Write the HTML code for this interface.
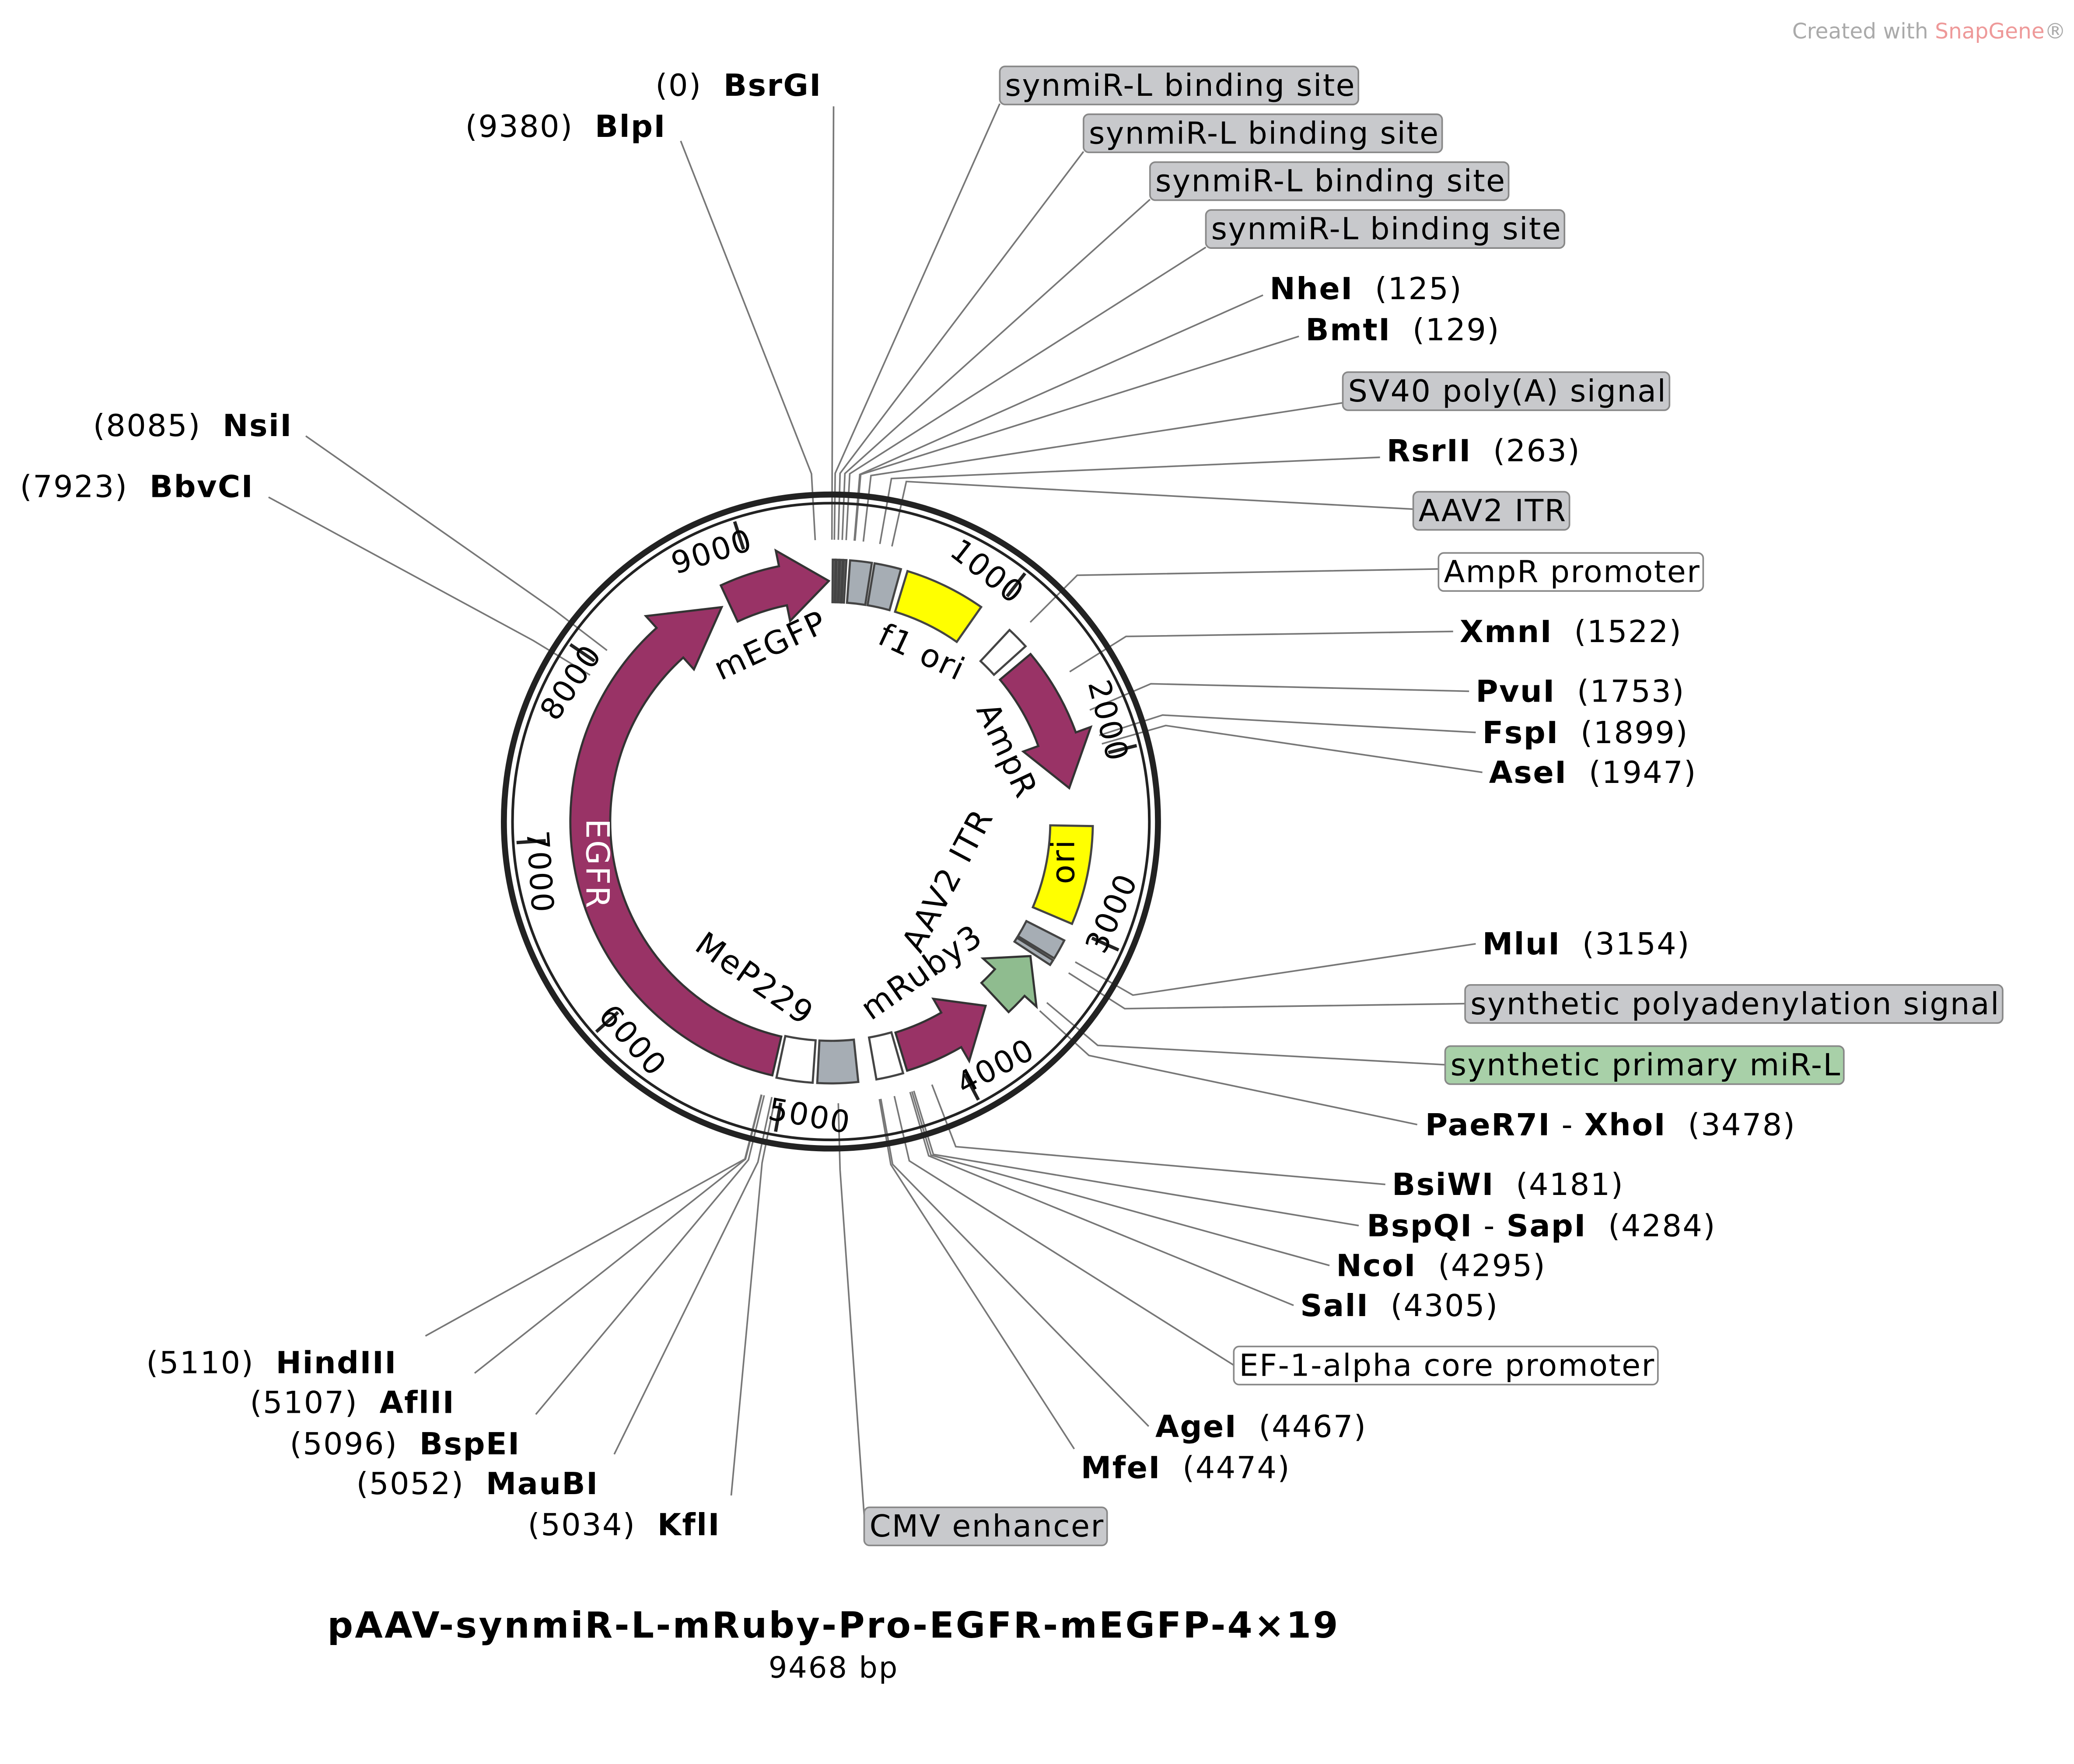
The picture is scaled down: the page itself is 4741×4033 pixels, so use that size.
<!DOCTYPE html>
<html><head><meta charset="utf-8"><style>html,body{margin:0;padding:0;background:#fff}svg{display:block}#labels text{white-space:pre}</style></head>
<body>
<svg id="s" xmlns="http://www.w3.org/2000/svg" width="4741" height="4033" viewBox="0 0 1560 1327" font-family="'DejaVu Sans','Liberation Sans',sans-serif">
<rect width="1560" height="1327" fill="#fff"/>
<g id="lines" stroke="#777" stroke-width="1.2" fill="none"></g>
<circle cx="625" cy="618" r="246" fill="none" stroke="#222" stroke-width="4.5"/>
<circle cx="625" cy="618" r="239.5" fill="none" stroke="#222" stroke-width="2"/>
<g id="feat"></g>
<g id="ticks"></g>
<g id="labels" font-size="23" letter-spacing="0.8" fill="#000" xml:space="preserve"></g>
<g font-size="24" letter-spacing="1">
<text x="583" y="493" transform="rotate(-25 583 493)" text-anchor="middle">mEGFP</text>
<text x="690" y="498" transform="rotate(25 690 498)" text-anchor="middle">f1 ori</text>
<text x="750" y="568" transform="rotate(65 750 568)" text-anchor="middle">AmpR</text>
<text x="808" y="648" transform="rotate(-90 808 648)" text-anchor="middle">ori</text>
<text x="720" y="666" transform="rotate(-62 720 666)" text-anchor="middle">AAV2 ITR</text>
<text x="698" y="738" transform="rotate(-35 698 738)" text-anchor="middle">mRuby3</text>
<text x="563" y="743" transform="rotate(35 563 743)" text-anchor="middle">MeP229</text>
<text x="441" y="650" transform="rotate(90 441 650)" text-anchor="middle" fill="#fff">EGFR</text>
</g>
<text x="627" y="1232" font-size="27" font-weight="bold" letter-spacing="1.4" text-anchor="middle">pAAV-synmiR-L-mRuby-Pro-EGFR-mEGFP-4×19</text>
<text x="627" y="1262" font-size="22" letter-spacing="1" text-anchor="middle">9468 bp</text>
<text x="1348" y="29" font-size="16" fill="#aaa">Created with <tspan fill="#e99">SnapGene</tspan>®</text>
</svg>
<script>
const NS="http://www.w3.org/2000/svg",cx=625,cy=618;
function P(a,r){a=a*Math.PI/180;return [cx+r*Math.sin(a),cy-r*Math.cos(a)];}
function f(p){return p[0].toFixed(2)+","+p[1].toFixed(2);}
function el(par,tag,at,txt){const e=document.createElementNS(NS,tag);for(const k in at)e.setAttribute(k,at[k]);if(txt!=null)e.textContent=txt;document.getElementById(par).appendChild(e);return e;}
function box(a1,a2,fill,r1=165,r2=197){
 const d="M"+f(P(a1,r2))+" A"+r2+","+r2+" 0 0 1 "+f(P(a2,r2))+" L"+f(P(a2,r1))+" A"+r1+","+r1+" 0 0 0 "+f(P(a1,r1))+"Z";
 el("feat","path",{d,fill,stroke:"#444","stroke-width":1.6});}
function arrow(a1,a2,fill,rev,h){
 const b1=166,b2=196,h1=154,h2=208,m=181;
 let d;
 if(!rev){const ah=a2-h;
  d="M"+f(P(a1,b2))+" A"+b2+","+b2+" 0 0 1 "+f(P(ah,b2))+" L"+f(P(ah,h2))+" L"+f(P(a2,m))+" L"+f(P(ah,h1))+" L"+f(P(ah,b1))+" A"+b1+","+b1+" 0 0 0 "+f(P(a1,b1))+"Z";}
 else{const ah=a1+h;
  d="M"+f(P(a2,b2))+" A"+b2+","+b2+" 0 0 0 "+f(P(ah,b2))+" L"+f(P(ah,h2))+" L"+f(P(a1,m))+" L"+f(P(ah,h1))+" L"+f(P(ah,b1))+" A"+b1+","+b1+" 0 0 1 "+f(P(a2,b1))+"Z";}
 el("feat","path",{d,fill,stroke:"#333","stroke-width":1.6});}
const PU="#993366";
arrow(193,333,PU,false,15);
arrow(335,359.5,PU,false,11);
for(const a of [0.4,1.2,2.0,2.8]) box(a,a+0.6,"#666");
box(4.2,9,"#a6adb4");box(9.6,15.5,"#a6adb4");
box(17,35,"#ffff00");
box(43,48,"#fff");
arrow(50,82,PU,false,12);
box(91,113,"#ffff00");
box(117,121.5,"#a6adb4");box(122,123.2,"#a6adb4");
arrow(124,137,"#8fbc8f",true,8);
arrow(140,163,PU,true,10);
box(164,170,"#fff");
box(174,183,"#a6adb4");
box(184,192,"#fff");
for(let k=1;k<10;k++){const a=k*1000/9468*360;
 el("ticks","line",{x1:P(a,215)[0],y1:P(a,215)[1],x2:P(a,237)[0],y2:P(a,237)[1],stroke:"#222","stroke-width":2.5});
 const q=P(a-6,222);let rot=a;if(a>90&&a<270)rot=a-180;
 el("ticks","text",{x:q[0],y:q[1]+8,"font-size":23,"letter-spacing":1,"text-anchor":"middle",transform:`rotate(${rot} ${q[0]} ${q[1]})`},String(k*1000));}
const L=[
["(0)  <B>BsrGI</B>",493,72,0.2,627,80],
["(9380)  <B>BlpI</B>",350,103,356.8,512,106],
["(8085)  <B>NsiI</B>",70,328,307.4,230,328],
["(7923)  <B>BbvCI</B>",15,374,301.3,202,374],
["synmiR-L binding site",756,72,0.7,752,78,"#c8c9cc"],
["synmiR-L binding site",819,108,1.5,815,114,"#c8c9cc"],
["synmiR-L binding site",869,144,2.3,865,150,"#c8c9cc"],
["synmiR-L binding site",911,180,3.1,907,186,"#c8c9cc"],
["<B>NheI</B>  (125)",955,225,4.75,950,222],
["<B>BmtI</B>  (129)",982,256,4.9,977,253],
["SV40 poly(A) signal",1014,302,6.6,1010,303,"#c8c9cc"],
["<B>RsrII</B>  (263)",1043,347,10,1038,344],
["AAV2 ITR",1067,392,12.5,1063,383,"#c8c9cc"],
["AmpR promoter",1086,438,45,1082,428,"#fff"],
["<B>XmnI</B>  (1522)",1098,483,57.9,1093,475],
["<B>PvuI</B>  (1753)",1110,528,66.7,1105,520],
["<B>FspI</B>  (1899)",1115,559,72.2,1110,551],
["<B>AseI</B>  (1947)",1120,589,74,1115,581],
["<B>MluI</B>  (3154)",1115,718,119.9,1110,710],
["synthetic polyadenylation signal",1106,763,122.5,1102,755,"#c8c9cc"],
["synthetic primary miR-L",1091,809,130,1087,801,"#a8d0a8"],
["<B>PaeR7I</B> - <B>XhoI</B>  (3478)",1072,854,132.2,1066,846],
["<B>BsiWI</B>  (4181)",1047,899,159,1042,891],
["<B>BspQI</B> - <B>SapI</B>  (4284)",1028,930,162.9,1022,922],
["<B>NcoI</B>  (4295)",1005,960,163.3,1000,952],
["<B>SalI</B>  (4305)",978,990,163.7,973,982],
["EF-1-alpha core promoter",932,1035,167,928,1027,"#fff"],
["<B>AgeI</B>  (4467)",869,1081,169.8,864,1073],
["<B>MfeI</B>  (4474)",813,1112,170.1,808,1090],
["CMV enhancer",654,1156,178.5,650,1140,"#c8c9cc"],
["(5034)  <B>KflI</B>",397,1155,191.4,550,1125],
["(5052)  <B>MauBI</B>",268,1124,192.1,462,1094],
["(5096)  <B>BspEI</B>",218,1094,193.7,403,1064],
["(5107)  <B>AflII</B>",188,1063,194.2,357,1033],
["(5110)  <B>HindIII</B>",110,1033,194.3,320,1005]
];
for(const l of L){
 const [h,x,y,a,ax,ay,bx]=l;
 const t=el("labels","text",{x,y});
 t.innerHTML=h.replace(/<B>/g,'<tspan font-weight="bold">').replace(/<\/B>/g,'</tspan>');
 if(bx){const bb=t.getBBox();
  const r=el("labels","rect",{x:bb.x-4,y:bb.y-1,width:bb.width+6,height:bb.height+2,rx:4,fill:bx,stroke:"#888","stroke-width":1.2});
  t.parentNode.insertBefore(r,t);}
 const s=P(a,212),m=P(a,262);
 el("lines","polyline",{points:f(s)+" "+f(m)+" "+ax+","+ay});
}
</script>
</body></html>
